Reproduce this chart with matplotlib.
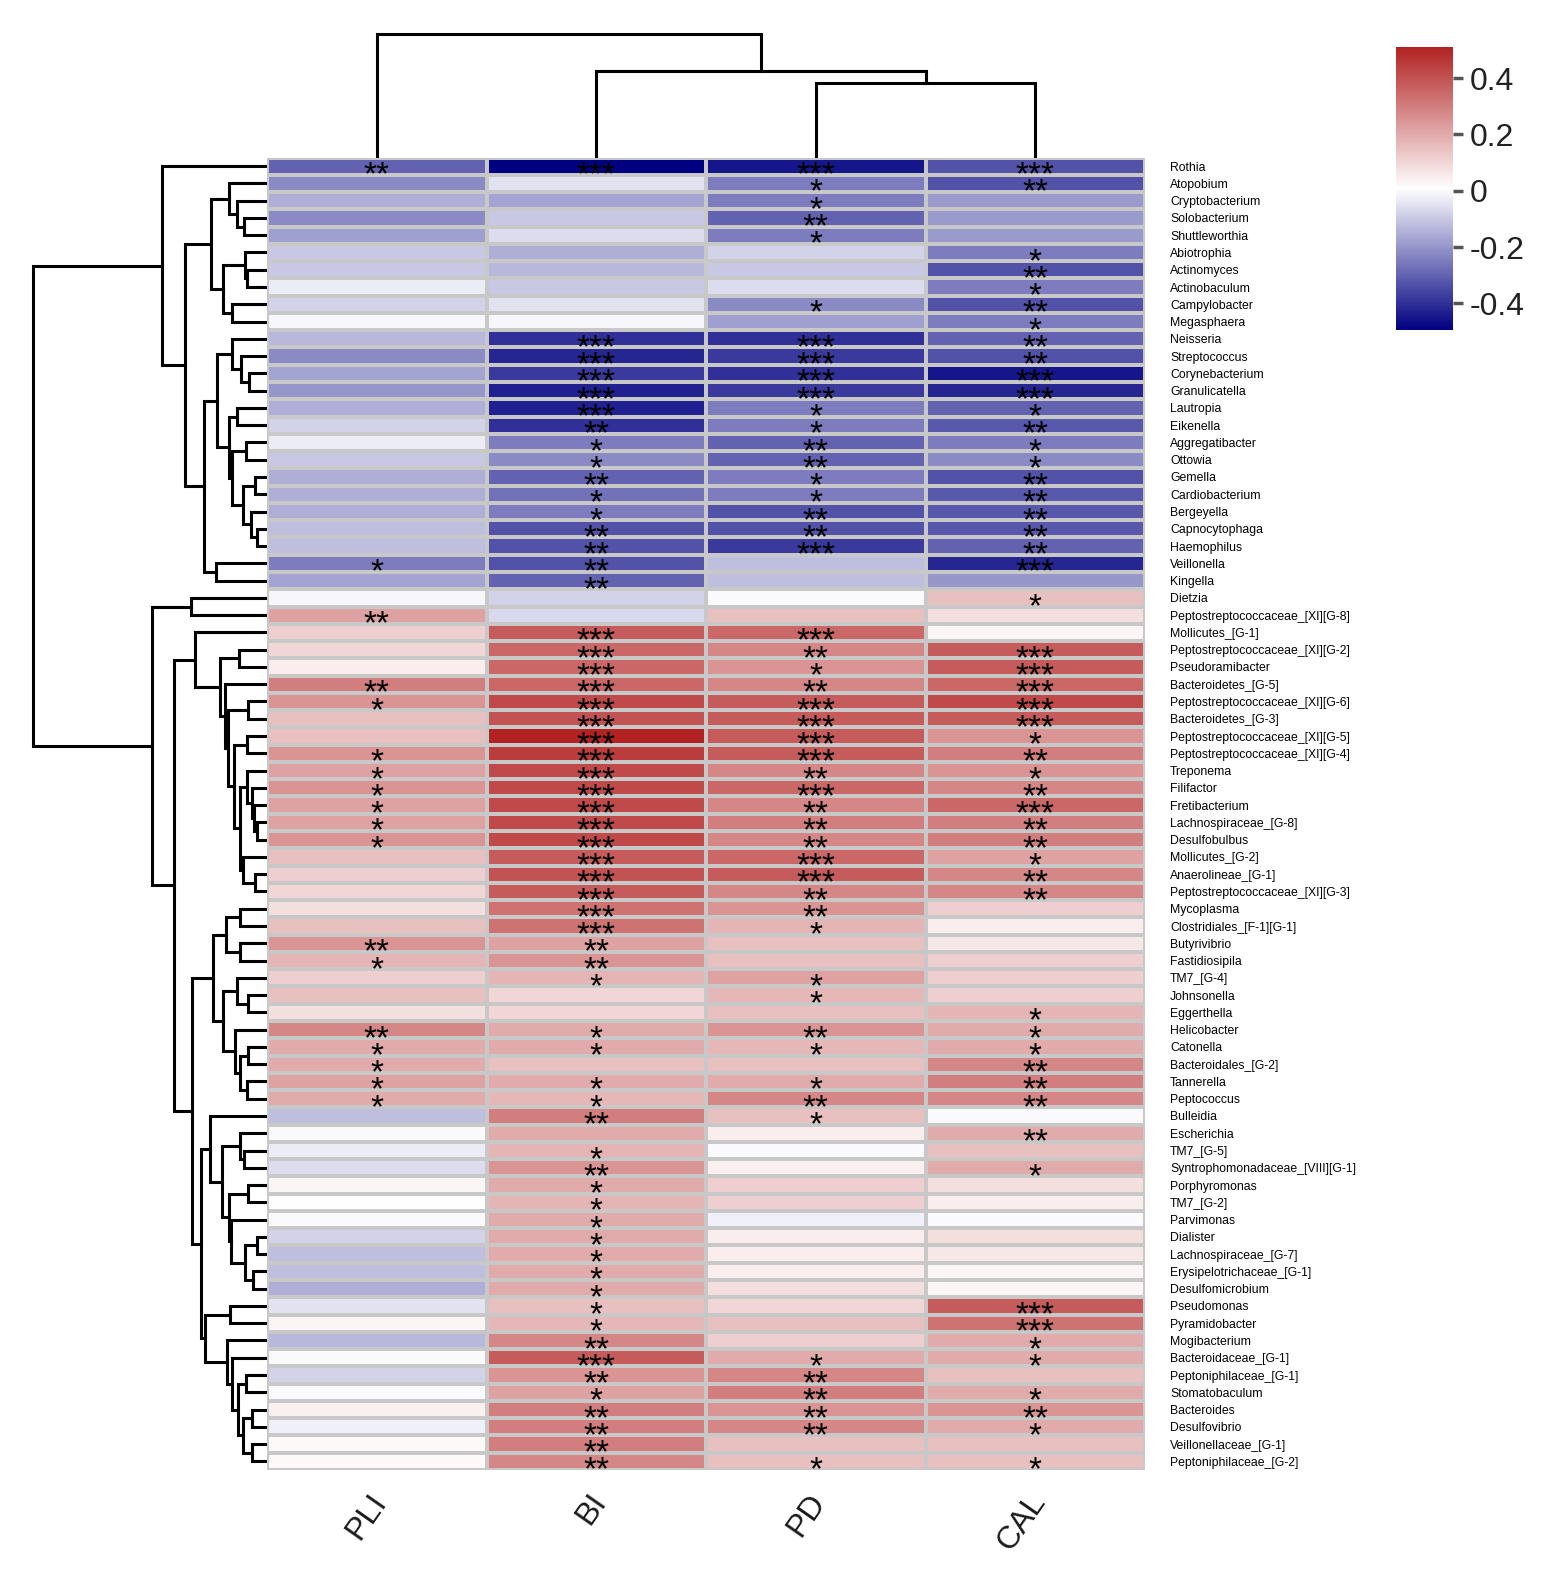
import numpy as np
import matplotlib
matplotlib.use("Agg")
import matplotlib.pyplot as plt
from matplotlib.colors import LinearSegmentedColormap, Normalize

plt.rcParams['font.family'] = ['Liberation Sans', 'DejaVu Sans']

# %%
# genera (rows) and clinical indices (columns)
generos = [
    'Rothia', 'Atopobium', 'Cryptobacterium', 'Solobacterium', 'Shuttleworthia',
    'Abiotrophia', 'Actinomyces', 'Actinobaculum', 'Campylobacter', 'Megasphaera',
    'Neisseria', 'Streptococcus', 'Corynebacterium', 'Granulicatella', 'Lautropia',
    'Eikenella', 'Aggregatibacter', 'Ottowia', 'Gemella', 'Cardiobacterium',
    'Bergeyella', 'Capnocytophaga', 'Haemophilus', 'Veillonella', 'Kingella',
    'Dietzia', 'Peptostreptococcaceae_[XI][G-8]', 'Mollicutes_[G-1]',
    'Peptostreptococcaceae_[XI][G-2]', 'Pseudoramibacter', 'Bacteroidetes_[G-5]',
    'Peptostreptococcaceae_[XI][G-6]', 'Bacteroidetes_[G-3]',
    'Peptostreptococcaceae_[XI][G-5]', 'Peptostreptococcaceae_[XI][G-4]',
    'Treponema', 'Filifactor', 'Fretibacterium', 'Lachnospiraceae_[G-8]',
    'Desulfobulbus', 'Mollicutes_[G-2]', 'Anaerolineae_[G-1]',
    'Peptostreptococcaceae_[XI][G-3]', 'Mycoplasma', 'Clostridiales_[F-1][G-1]',
    'Butyrivibrio', 'Fastidiosipila', 'TM7_[G-4]', 'Johnsonella', 'Eggerthella',
    'Helicobacter', 'Catonella', 'Bacteroidales_[G-2]', 'Tannerella', 'Peptococcus',
    'Bulleidia', 'Escherichia', 'TM7_[G-5]', 'Syntrophomonadaceae_[VIII][G-1]',
    'Porphyromonas', 'TM7_[G-2]', 'Parvimonas', 'Dialister', 'Lachnospiraceae_[G-7]',
    'Erysipelotrichaceae_[G-1]', 'Desulfomicrobium', 'Pseudomonas', 'Pyramidobacter',
    'Mogibacterium', 'Bacteroidaceae_[G-1]', 'Peptoniphilaceae_[G-1]',
    'Stomatobaculum', 'Bacteroides', 'Desulfovibrio', 'Veillonellaceae_[G-1]',
    'Peptoniphilaceae_[G-2]',
]
indices = ['PLI', 'BI', 'PD', 'CAL']

# correlacoes
pli = [-0.30, -0.22, -0.15, -0.22, -0.18, -0.10, -0.10, -0.03, -0.08, -0.01,
       -0.13, -0.22, -0.17, -0.20, -0.15, -0.08, -0.03, -0.10, -0.15, -0.15,
       -0.15, -0.12, -0.12, -0.25, -0.17, -0.01, 0.22, 0.12, 0.10, 0.05,
       0.30, 0.25, 0.15, 0.15, 0.25, 0.22, 0.25, 0.22, 0.22, 0.25,
       0.15, 0.12, 0.10, 0.08, 0.15, 0.25, 0.18, 0.12, 0.15, 0.08,
       0.28, 0.20, 0.20, 0.22, 0.20, -0.12, 0.00, -0.03, -0.06, 0.03,
       0.01, 0.00, -0.08, -0.12, -0.12, -0.15, -0.05, 0.03, -0.13, 0.00,
       -0.08, 0.00, 0.04, -0.02, 0.02, 0.02]
bi = [-0.495, -0.05, -0.17, -0.10, -0.06, -0.15, -0.13, -0.10, -0.05, -0.01,
      -0.40, -0.42, -0.38, -0.43, -0.43, -0.40, -0.25, -0.22, -0.30, -0.27,
      -0.25, -0.33, -0.33, -0.33, -0.30, -0.08, -0.07, 0.38, 0.35, 0.35,
      0.35, 0.42, 0.40, 0.511, 0.45, 0.42, 0.42, 0.42, 0.42, 0.42,
      0.38, 0.40, 0.38, 0.33, 0.33, 0.22, 0.25, 0.18, 0.10, 0.10,
      0.20, 0.20, 0.15, 0.20, 0.17, 0.30, 0.20, 0.18, 0.25, 0.20,
      0.18, 0.20, 0.20, 0.20, 0.20, 0.20, 0.15, 0.17, 0.28, 0.38,
      0.25, 0.22, 0.30, 0.30, 0.30, 0.28]
pd_vals = [-0.45, -0.25, -0.25, -0.30, -0.25, -0.08, -0.10, -0.06, -0.22, -0.18,
           -0.40, -0.38, -0.40, -0.38, -0.25, -0.25, -0.30, -0.30, -0.25, -0.25,
           -0.33, -0.33, -0.38, -0.12, -0.12, 0.00, 0.15, 0.35, 0.28, 0.25,
           0.28, 0.38, 0.38, 0.38, 0.38, 0.28, 0.35, 0.28, 0.30, 0.28,
           0.35, 0.38, 0.28, 0.25, 0.18, 0.15, 0.15, 0.22, 0.17, 0.15,
           0.25, 0.17, 0.15, 0.20, 0.28, 0.15, 0.05, 0.00, 0.04, 0.12,
           0.12, -0.02, 0.05, 0.05, 0.05, 0.08, 0.10, 0.15, 0.12, 0.20,
           0.28, 0.30, 0.25, 0.28, 0.15, 0.15]
cal = [-0.33, -0.33, -0.19, -0.19, -0.19, -0.25, -0.33, -0.25, -0.33, -0.25,
       -0.30, -0.33, -0.45, -0.42, -0.30, -0.32, -0.25, -0.22, -0.33, -0.32,
       -0.32, -0.32, -0.30, -0.42, -0.20, 0.15, 0.08, 0.03, 0.38, 0.38,
       0.35, 0.42, 0.38, 0.25, 0.30, 0.25, 0.28, 0.35, 0.30, 0.30,
       0.22, 0.28, 0.28, 0.12, 0.05, 0.06, 0.12, 0.12, 0.12, 0.18,
       0.20, 0.20, 0.28, 0.30, 0.28, 0.00, 0.20, 0.15, 0.20, 0.08,
       0.05, 0.00, 0.08, 0.06, 0.03, 0.03, 0.38, 0.33, 0.20, 0.20,
       0.15, 0.20, 0.25, 0.20, 0.15, 0.15]

# significancia
sig_pli = ['**', '', '', '', '', '', '', '', '', '',
           '', '', '', '', '', '', '', '', '', '',
           '', '', '', '*', '', '', '**', '', '', '',
           '**', '*', '', '', '*', '*', '*', '*', '*', '*',
           '', '', '', '', '', '**', '*', '', '', '',
           '**', '*', '*', '*', '*', '', '', '', '', '',
           '', '', '', '', '', '', '', '', '', '',
           '', '', '', '', '', '']
sig_bi = ['***', '', '', '', '', '', '', '', '', '',
          '***', '***', '***', '***', '***', '**', '*', '*', '**', '*',
          '*', '**', '**', '**', '**', '', '', '***', '***', '***',
          '***', '***', '***', '***', '***', '***', '***', '***', '***', '***',
          '***', '***', '***', '***', '***', '**', '**', '*', '', '',
          '*', '*', '', '*', '*', '**', '', '*', '**', '*',
          '*', '*', '*', '*', '*', '*', '*', '*', '**', '***',
          '**', '*', '**', '**', '**', '**']
sig_pd = ['***', '*', '*', '**', '*', '', '', '', '*', '',
          '***', '***', '***', '***', '*', '*', '**', '**', '*', '*',
          '**', '**', '***', '', '', '', '', '***', '**', '*',
          '**', '***', '***', '***', '***', '**', '***', '**', '**', '**',
          '***', '***', '**', '**', '*', '', '', '*', '*', '',
          '**', '*', '', '*', '**', '*', '', '', '', '',
          '', '', '', '', '', '', '', '', '', '*',
          '**', '**', '**', '**', '', '*']
sig_cal = ['***', '**', '', '', '', '*', '**', '*', '**', '*',
           '**', '**', '***', '***', '*', '**', '*', '*', '**', '**',
           '**', '**', '**', '***', '', '*', '', '', '***', '***',
           '***', '***', '***', '*', '**', '*', '**', '***', '**', '**',
           '*', '**', '**', '', '', '', '', '', '', '*',
           '*', '*', '**', '**', '**', '', '**', '', '*', '',
           '', '', '', '', '', '', '***', '***', '*', '*',
           '', '*', '**', '*', '', '*']

# dendrogramas: (altura, esquerda, direita); folhas = indice da linha/coluna
a1 = (38, 1, (30, 2, (23, 3, 4)))
a2 = (44, (22, 5, (20, 6, 7)), (35, 8, 9))
b1 = (35, 10, (26, 11, (18, 12, 13)))
b2 = (35, (21, 16, 17), (24, (12, 18, 19), (16, 20, (10, 21, 22))))
b3 = (63, (50, b1, (38, (30, 14, 15), b2)), (51, 23, 24))
azul = (105, 0, (82, (56, a1, a2), b3))

t1 = (20, 35, (15, 36, (13, 37, (10, 38, 39))))
t2 = (24, 40, (12, 41, 42))
r1 = (72, 27, (47, (28, 28, 29), (42, 30, (39, (19, 31, 32), (33, (20, 33, 34), (27, t1, t2))))))
s1 = (54, (41, (27, 43, 44), (27, 45, 46)),
      (44, (30, 47, (19, 48, 49)), (32, 50, (27, (19, 51, 52), (20, 53, 54)))))
u1 = (57, 55, (45, (27, 56, (23, 57, 58)),
               (38, (19, 59, 60), (36, 61, (22, (10, 62, 63), (14, 64, 65))))))
u2 = (62, (37, 66, 67), (40, 68, (35, 69, (29, (21, 70, 71), (24, (15, 72, 73), (15, 74, 75))))))
vermelho = (115, (76, 25, 26), (93, r1, (75, s1, (66, u1, u2))))

arvore_linhas = (234, azul, vermelho)
arvore_colunas = (124, 0, (86.5, 1, (74.5, 2, 3)))

# %%
W, H = 1559, 1587
fig = plt.figure(figsize=(W / 100, H / 100), dpi=100)


def eixo_px(x0, y0, x1, y1):
    return fig.add_axes([x0 / W, 1 - y1 / H, (x1 - x0) / W, (y1 - y0) / H])


def desenha_arvore(ax, no, lado):
    if isinstance(no, int):
        return no + 0.5, 0
    h, esq, dir_ = no
    pe, he = desenha_arvore(ax, esq, lado)
    pd_, hd = desenha_arvore(ax, dir_, lado)
    pos = [pe, pe, pd_, pd_]
    alt = [he, h, h, hd]
    if lado == 'esquerda':
        ax.plot(alt, pos, color='black', lw=2.2, solid_joinstyle='miter')
    else:
        ax.plot(pos, alt, color='black', lw=2.2, solid_joinstyle='miter')
    return (pe + pd_) / 2, h


dados = np.column_stack([pli, bi, pd_vals, cal])
sig = [sig_pli, sig_bi, sig_pd, sig_cal]
n = len(generos)

cmap = LinearSegmentedColormap.from_list('azul_vermelho', ['#000080', '#ffffff', '#b22222'])
norm = Normalize(vmin=dados.min(), vmax=dados.max())

# heatmap
ax = eixo_px(267, 157.5, 1145, 1470)
malha = ax.pcolormesh(np.arange(5), np.arange(n + 1), dados, cmap=cmap, norm=norm,
                      edgecolors='#c8c8c8', linewidth=1.5)
ax.set_xlim(0, 4)
ax.set_ylim(n, 0)
for s in ax.spines.values():
    s.set_visible(False)
ax.set_xticks([])
ax.set_yticks(np.arange(n) + 0.5)
ax.set_yticklabels(generos, fontsize=8.8)
ax.yaxis.tick_right()
ax.tick_params(axis='y', length=0, pad=18)

fs = 24
for j in range(4):
    for i in range(n):
        if sig[j][i]:
            ax.annotate(sig[j][i], xy=(j + 0.5, i + 0.5), xytext=(0, -0.55 * fs),
                        textcoords='offset points', ha='center', va='baseline',
                        fontsize=fs, color='black')
    ax.annotate(indices[j], xy=(j + 0.5, n), xytext=(-6, -13), textcoords='offset points',
                rotation=55, rotation_mode='anchor', ha='right', va='top',
                fontsize=23, color='#1a1a1a', annotation_clip=False)

# dendrograma das linhas
ax_l = eixo_px(20, 157.5, 267, 1470)
desenha_arvore(ax_l, arvore_linhas, 'esquerda')
ax_l.set_xlim(247, 0)
ax_l.set_ylim(n, 0)
ax_l.axis('off')

# dendrograma das colunas
ax_c = eixo_px(267, 20, 1145, 157.5)
desenha_arvore(ax_c, arvore_colunas, 'topo')
ax_c.set_xlim(0, 4)
ax_c.set_ylim(0, 137.5)
ax_c.axis('off')

# barra de cores
cax = eixo_px(1396, 47, 1453, 330)
cb = fig.colorbar(malha, cax=cax)
cb.outline.set_visible(False)
cb.set_ticks([-0.4, -0.2, 0, 0.2, 0.4])
cb.set_ticklabels(['-0.4', '-0.2', '0', '0.2', '0.4'])
cax.tick_params(length=7, width=2.5, color='#555555', labelsize=23,
                labelcolor='#222222', pad=5)

fig.savefig('out.png', dpi=100, facecolor='white')
